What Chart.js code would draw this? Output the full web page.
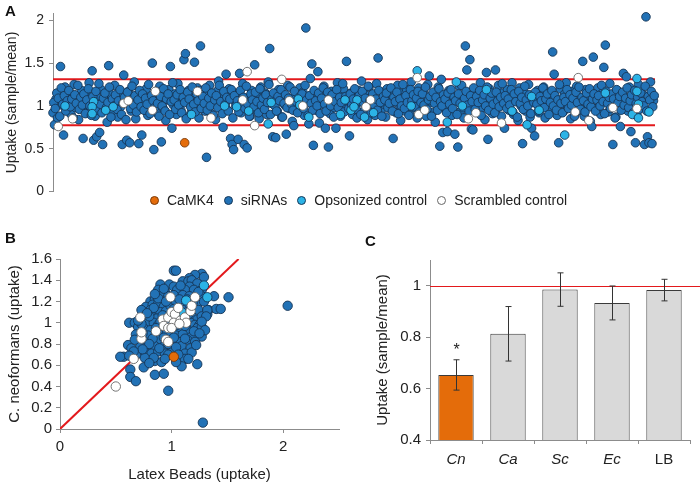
<!DOCTYPE html>
<html>
<head>
<meta charset="utf-8">
<script src="https://cdn.jsdelivr.net/npm/chart.js@4.4.0/dist/chart.umd.min.js"></script>
<style>
  body { margin:0; background:#fff; font-family:"Liberation Sans", Arial, sans-serif; }
  #wrap { position:relative; width:700px; height:485px; overflow:hidden; background:#fff; }
  #wrap canvas { position:absolute; }
  .panel { position:absolute; font-weight:bold; font-size:15px; line-height:15px; color:#111; }
  #legendA { position:absolute; left:150px; top:192px; display:flex; align-items:center; font-size:14px; line-height:16px; color:#222; white-space:nowrap; }
  #legendA .item { display:flex; align-items:center; margin-right:10px; }
  #legendA .dot { width:9px; height:9px; border-radius:50%; border:1px solid; margin-right:8px; box-sizing:border-box; }
</style>
</head>
<body>
<div id="wrap">
  <canvas id="chartA" width="700" height="205" style="left:0;top:0"></canvas>
  <canvas id="chartB" width="350" height="265" style="left:0;top:220px"></canvas>
  <canvas id="chartC" width="350" height="265" style="left:350px;top:220px"></canvas>
  <div class="panel" style="left:5px;top:3px">A</div>
  <div class="panel" style="left:5px;top:230px">B</div>
  <div class="panel" style="left:365px;top:233px">C</div>
  <div id="legendA"></div>
</div>
<script>
// ---- panel A: uptake per siRNA (sample index -> sample/mean)
const siRNAsA = [
  0.92,0.78,1.08,0.86,1.12,1.46,1.01,0.66,1.22,0.95,1.05,1.16,0.90,1.03,1.25,0.98,1.10,0.84,1.07,1.18,
  0.62,1.00,1.13,0.93,1.27,1.04,1.41,0.60,0.88,0.64,1.09,0.69,1.19,0.55,0.97,1.06,0.81,1.47,1.14,1.02,
  0.91,1.24,1.07,0.87,1.11,0.99,0.55,1.36,1.04,0.60,1.17,0.57,0.94,1.08,1.28,0.85,1.02,0.56,1.13,0.66,
  1.06,0.96,1.20,0.89,1.10,1.00,1.50,0.49,1.15,0.92,1.04,1.23,0.58,0.98,1.12,0.83,1.07,1.19,1.46,0.74,
  1.01,1.14,0.90,1.26,1.05,0.95,1.09,1.54,1.61,0.87,1.18,1.03,0.93,1.12,1.51,0.99,1.21,0.86,1.70,1.08,
  1.16,0.94,0.40,1.06,1.24,0.91,1.11,1.02,0.84,1.17,1.29,0.97,1.08,0.75,1.13,1.37,0.95,1.20,0.62,0.55,
  0.49,1.05,1.14,0.61,1.38,0.92,1.26,0.55,1.09,0.51,1.00,0.88,1.18,1.04,1.48,0.96,1.12,0.85,1.22,1.07,
  0.99,1.15,0.90,1.28,1.67,1.03,0.64,1.10,0.63,0.94,1.19,1.06,0.87,1.13,1.01,0.67,1.24,0.97,1.08,0.82,
  0.77,1.11,1.04,0.93,1.21,1.00,1.16,0.89,1.91,1.07,0.79,1.32,1.49,0.54,1.09,0.95,1.40,0.80,1.14,1.02,
  1.23,0.74,1.05,0.52,0.91,1.17,1.08,0.98,0.74,1.27,1.03,0.88,1.12,1.20,0.96,1.52,1.06,0.65,1.15,0.90,
  1.10,1.01,0.86,1.18,1.05,1.29,0.93,1.14,1.08,0.84,1.22,0.99,1.11,1.04,0.89,1.26,1.56,1.07,0.95,1.16,
  1.02,0.87,1.20,1.09,0.97,1.13,0.62,1.05,0.92,1.24,1.01,0.83,1.15,1.10,0.94,1.19,1.06,0.90,1.28,1.03,
  0.98,1.12,0.86,1.21,1.07,0.95,1.17,1.00,0.88,1.25,1.35,1.04,0.92,1.14,0.81,1.09,1.22,0.53,1.31,0.69,
  1.06,0.96,0.70,1.18,1.02,0.89,1.11,0.67,1.08,0.52,1.23,0.94,1.05,0.86,1.70,1.42,1.13,1.54,0.73,0.72,
  1.01,1.16,0.93,1.07,1.27,0.98,1.10,0.84,1.39,0.61,1.20,1.04,0.91,1.13,1.42,0.97,1.24,1.06,0.88,1.15,
  0.74,1.09,1.19,0.95,1.03,1.27,0.90,1.12,1.07,0.83,1.21,1.00,0.56,1.15,0.94,1.08,1.25,0.87,0.74,1.11,
  0.65,1.04,1.18,0.92,1.13,0.99,1.22,0.86,1.07,1.16,0.96,1.10,1.63,1.37,1.02,0.89,0.57,1.20,1.05,0.93,
  1.14,1.27,0.98,1.08,0.85,1.17,1.03,0.91,1.23,1.11,0.95,1.06,1.52,0.88,1.19,1.01,1.12,0.82,0.76,1.57,
  1.09,0.97,1.21,1.04,0.90,1.15,1.45,1.71,1.07,0.93,1.26,1.00,0.55,1.12,0.87,1.18,1.05,0.76,0.96,1.38,
  1.10,1.34,0.94,1.22,0.70,1.03,1.16,0.57,0.89,1.25,1.08,0.99,1.13,0.55,2.04,0.64,0.57,1.28,0.56,1.06
];
// second plate, samples sitting between the ones above (index + 0.5)
const siRNAsA2 = [
  1.04,0.97,1.15,1.09,0.88,1.21,1.02,1.12,0.94,1.06,1.18,0.99,1.08,0.86,1.13,1.03,1.24,0.96,1.10,1.01,
  1.14,0.91,1.07,1.20,1.00,0.89,1.11,1.05,1.17,0.95,1.26,1.02,0.92,1.09,1.15,0.98,1.04,1.22,0.87,1.08,
  1.00,1.13,0.96,1.06,1.19,0.90,1.03,1.10,0.84,1.16,1.05,0.97,1.23,1.01,1.12,0.93,1.07,1.18,0.99,1.14,
  0.95,1.09,1.02,1.25,0.91,1.12,1.06,0.98,1.17,1.03,0.88,1.11,1.00,1.20,0.94,1.08,1.14,0.90,1.05,1.27,
  1.07,0.96,1.13,1.01,1.19,0.92,1.10,1.04,0.85,1.16,1.08,0.99,1.22,1.02,0.93,1.14,1.06,1.18,0.97,1.11,
  1.03,1.21,0.95,1.09,1.00,1.15,0.89,1.07,1.12,0.98,1.24,1.05,0.91,1.17,1.02,1.10,0.94,1.08,1.19,0.86,
  1.12,1.00,1.06,0.93,1.18,1.04,1.10,0.97,1.23,1.02,0.88,1.14,1.07,0.99,1.16,1.05,0.92,1.20,1.01,1.09,
  0.96,1.13,1.04,1.25,0.90,1.08,1.15,1.00,0.94,1.11,1.06,1.19,0.87,1.03,1.13,0.98,1.09,1.22,1.02,0.95,
  1.17,1.05,0.92,1.10,1.01,1.14,0.97,1.24,1.07,0.89,1.12,1.03,0.95,1.18,1.06,1.00,1.15,0.91,1.09,1.21,
  1.02,0.94,1.16,1.08,1.00,1.13,0.87,1.05,1.19,0.98,1.10,1.04,1.26,0.93,1.11,1.06,0.97,1.14,1.01,1.08,
  1.20,0.96,1.05,1.12,0.90,1.17,1.03,1.09,0.99,1.23,1.06,0.92,1.14,1.01,1.08,0.95,1.18,1.04,0.88,1.11,
  1.07,1.15,0.98,1.03,1.21,0.94,1.10,1.05,1.16,0.91,1.08,1.00,1.25,0.97,1.12,1.04,0.89,1.19,1.06,1.13,
  0.99,1.09,1.17,0.93,1.04,1.14,1.01,1.22,0.96,1.07,1.11,0.88,1.16,1.03,1.10,0.95,1.20,1.05,1.00,1.13,
  1.08,0.92,1.15,1.02,1.19,0.97,1.10,1.06,0.90,1.14,1.03,1.24,0.98,1.09,1.17,1.01,0.94,1.12,1.05,1.21,
  0.96,1.11,1.04,1.18,0.89,1.07,1.13,1.00,1.22,0.95,1.09,1.15,1.02,0.92,1.16,1.06,0.99,1.10,1.26,1.03,
  1.12,0.97,1.08,1.01,1.19,0.93,1.14,1.05,0.87,1.17,1.03,1.10,0.96,1.23,1.07,1.00,1.13,0.91,1.09,1.04,
  1.16,1.02,0.94,1.11,1.06,1.21,0.98,1.08,1.14,0.90,1.04,1.18,1.00,1.12,0.95,1.07,1.25,1.03,0.92,1.10,
  1.05,1.19,0.97,1.13,1.01,1.09,0.88,1.16,1.04,1.22,0.96,1.10,1.06,0.93,1.15,1.02,1.20,0.99,1.08,1.14,
  0.94,1.07,1.12,1.00,1.24,1.05,0.91,1.17,1.03,1.10,0.97,1.14,1.08,0.86,1.19,1.04,1.11,0.95,1.16,1.01,
  1.09,1.21,0.98,1.06,1.13,0.92,1.18,1.03,1.10,0.96,1.15,1.05,1.00,1.23,0.94,1.11,1.07,1.17,0.99,1.12
];
// [sample, value]
const opsonizedA = [
  [8,1.00],[27,1.05],[26,0.99],[26,0.91],[35,0.95],[40,0.99],[92,0.90],[114,1.00],[122,0.99],[130,0.94],
  [143,0.79],[145,1.04],[163,1.08],[164,1.01],[170,0.87],[191,0.90],[194,1.07],[198,0.95],[202,1.07],[200,0.99],
  [207,0.87],[213,0.92],[238,1.00],[242,1.41],[262,0.81],[268,1.28],[272,1.00],[288,1.19],[305,0.94],[315,0.78],
  [318,1.11],[323,0.95],[340,0.66],[367,1.15],[385,0.90],[388,1.32],[388,1.17],[389,1.02],[389,0.86],[396,0.93]
];
const scrambledA = [
  [3.5,0.76],[13,0.85],[47,1.03],[50,1.06],[66,0.95],[68,1.17],[96,1.17],[105,0.86],[126,1.07],[129,1.40],
  [134,0.77],[152,1.31],[157,1.06],[166,1.00],[183,1.07],[208,0.99],[211,1.07],[242,1.33],[243,0.90],[247,0.95],
  [276,0.85],[281,0.92],[298,0.80],[347,0.93],[349,1.33],[356,0.83],[372,0.98],[388,0.97]
];
const camk4A = [[87.5,0.57]];
const cutoffsA = [0.775, 1.31];
const yTicksA = [0, 0.5, 1, 1.5, 2];
const sampleCountA = 400;

// ---- panel B: latex beads vs C. neoformans uptake [beads, neoformans]
const siRNAsB = [
  [1.02,1.49],[1.04,1.49],[1.27,1.46],[1.21,1.45],[1.16,1.42],[1.29,1.43],
  [0.90,1.36],[0.98,1.36],[1.02,1.34],[1.10,1.39],[1.15,1.39],[1.18,1.40],[1.23,1.37],[1.16,1.34],
  [0.88,1.31],[0.94,1.29],[1.05,1.31],[1.12,1.31],[1.20,1.31],[1.27,1.31],
  [0.81,1.20],[0.85,1.22],[0.91,1.25],[0.97,1.25],[1.02,1.26],[1.10,1.26],[1.16,1.25],[1.23,1.23],[1.27,1.25],
  [0.77,1.15],[0.83,1.17],[0.88,1.18],[0.93,1.15],[1.09,1.18],[1.12,1.17],[1.23,1.17],
  [0.73,1.12],[0.81,1.12],[0.86,1.10],[0.90,1.10],[0.95,1.11],[1.10,1.12],[1.14,1.10],[1.24,1.12],[1.33,1.12],[1.32,1.08],
  [0.76,1.06],[0.82,1.06],[0.87,1.04],[1.07,1.06],[1.18,1.06],[1.23,1.03],[1.27,1.06],
  [0.62,1.00],[0.67,1.00],[0.79,1.00],[0.84,1.00],[0.88,0.98],[0.97,1.00],[1.17,1.00],[1.21,0.98],[1.25,0.98],
  [0.70,0.96],[0.76,0.94],[0.81,0.93],[0.91,0.93],[1.03,0.95],[1.08,0.93],[1.14,0.93],[1.23,0.95],[1.27,0.96],
  [0.68,0.89],[0.79,0.88],[0.85,0.87],[0.90,0.89],[0.97,0.89],[1.04,0.88],[1.10,0.89],[1.18,0.87],[1.27,0.87],
  [0.61,0.79],[0.70,0.84],[0.76,0.82],[0.82,0.82],[0.89,0.84],[1.01,0.82],[1.06,0.82],[1.14,0.84],[1.21,0.82],
  [0.64,0.76],[0.72,0.78],[0.78,0.78],[0.85,0.78],[0.93,0.78],[1.00,0.76],[1.09,0.78],[1.17,0.76],
  [0.70,0.71],[0.76,0.72],[0.82,0.71],[0.88,0.73],[0.94,0.71],[1.01,0.73],[1.12,0.71],[1.18,0.72],
  [0.57,0.68],[0.54,0.68],[0.76,0.67],[0.85,0.64],[0.91,0.63],[1.12,0.66],[1.15,0.66],[1.23,0.61],
  [0.75,0.58],[1.09,0.59],[0.63,0.56],[0.63,0.49],[0.68,0.45],[0.85,0.51],[0.93,0.52],
  [0.97,0.36],[1.28,0.06],
  [1.51,1.24],[1.38,1.25],[1.40,1.13],[1.44,1.13],[1.32,1.12],[1.31,1.06],[2.04,1.16],
  [0.84,1.14],[0.99,1.16],[1.04,1.20],[1.14,1.22],[0.80,1.06],[0.92,1.07],[1.10,1.04],[1.15,1.08],
  [0.73,0.99],[0.90,1.01],[1.05,0.98],[1.12,0.97],[0.86,0.95],[0.96,0.91],[1.20,0.92],[0.74,0.90],
  [0.83,0.85],[0.93,0.86],[1.02,0.86],[1.12,0.85],[0.67,0.84],[0.80,0.80],[0.97,0.80],[1.04,0.77],
  [1.22,0.79],[0.89,0.76],[0.74,0.75],[0.97,0.70],[1.06,0.70],[0.84,0.67],[0.94,0.66],[1.04,0.63],
  [0.80,0.62],[0.66,0.73],[0.62,0.69],[0.88,1.23],[0.95,1.20],[1.07,1.22],[1.19,1.19],[1.29,1.20],
  [1.24,1.29],[1.08,1.35],[0.93,1.32],[0.85,1.27],[0.78,1.09],[1.02,1.13],[1.27,1.01],[1.30,0.93],
  [1.25,0.90],[0.70,1.02]
];
const opsonizedB = [[1.29,1.35],[1.32,1.24],[1.13,1.21],[1.09,1.10]];
const scrambledB = [
  [0.92,1.03],[0.97,1.05],[1.00,1.10],[1.03,1.08],[1.06,1.14],[1.02,1.00],[1.08,1.02],[1.12,1.05],
  [1.13,1.00],[1.17,1.11],[1.18,1.16],[1.21,1.24],[0.86,0.92],[0.93,0.97],[0.97,0.95],[0.95,0.84],
  [0.73,0.85],[0.73,0.91],[0.72,1.05],[0.99,1.24],[0.50,0.40],[0.66,0.66],[0.97,0.82],[1.00,0.95],[1.07,0.99]
];
const camk4B = [[1.02,0.68]];
const identityB = [0, 1.6];
const xTicksB = [0, 1, 2];
const yTicksB = [0, 0.2, 0.4, 0.6, 0.8, 1, 1.2, 1.4, 1.6];

// ---- panel C: uptake by organism
const organismsC = ['Cn', 'Ca', 'Sc', 'Ec', 'LB'];
const italicC = [true, true, true, true, false];
const meanC = [0.653, 0.813, 0.985, 0.933, 0.983];
const errC = [0.059, 0.106, 0.065, 0.066, 0.042];
const sigC = ['*', '', '', '', ''];
const yTicksC = [0.4, 0.6, 0.8, 1];
const refLineC = 1;

const BLUE = '#2272b6', CYAN = '#2bb3e6', ORANGE = '#e46c0a', EDGE = '#163656', RED = '#e3191c';
const GRIDC = '#8c8c8c';

Chart.defaults.font.family = '"Liberation Sans", Arial, sans-serif';
Chart.defaults.font.size = 14;
Chart.defaults.color = '#222';

const pts = arr => arr.map(p => ({ x: p[0], y: p[1] }));
const fixTicks = list => scale => { scale.ticks = list.map(v => ({ value: v })); };
const axisLook = {
  grid: { drawOnChartArea: false, drawTicks: true, tickLength: 4, color: GRIDC },
  border: { display: true, color: GRIDC }
};
const f15 = { size: 15 };

function dots(label, data, fill, edge, r) {
  return { type: 'scatter', label, data, backgroundColor: fill, borderColor: edge,
           borderWidth: 0.9, pointRadius: r, pointHoverRadius: r, clip: false };
}

// ---- A
const siData = siRNAsA.map((v, i) => ({ x: i, y: v }))
  .concat(siRNAsA2.map((v, i) => ({ x: i + 0.5, y: v })));
const dsA = [
  dots('CaMK4', pts(camk4A), ORANGE, '#7a3a08', 4.3),
  dots('Scrambled control', pts(scrambledA), '#ffffff', '#666666', 4.3),
  dots('Opsonized control', pts(opsonizedA), CYAN, EDGE, 4.3),
  dots('siRNAs', siData, BLUE, EDGE, 4.3)
];
cutoffsA.forEach(c => dsA.push({ type: 'line', label: 'cut', data: [{ x: 0, y: c }, { x: sampleCountA, y: c }],
  borderColor: RED, borderWidth: 2, pointRadius: 0, fill: false }));

new Chart(document.getElementById('chartA'), {
  type: 'scatter',
  data: { datasets: dsA },
  options: {
    responsive: false, animation: false,
    layout: { padding: { top: 13, right: 45, bottom: 13, left: 0 } },
    plugins: { legend: { display: false }, tooltip: { enabled: false } },
    scales: {
      x: { type: 'linear', min: 0, max: sampleCountA, display: false },
      y: {
        min: 0, max: 2.08, afterBuildTicks: fixTicks(yTicksA), afterFit: s => { s.width = 53; },
        ticks: { padding: 5, callback: v => String(v) },
        title: { display: true, text: 'Uptake (sample/mean)', padding: { top: 4, bottom: 0 } },
        ...axisLook
      }
    }
  }
});

// legend for A, built from the datasets
const legendOrder = ['CaMK4', 'siRNAs', 'Opsonized control', 'Scrambled control'];
const legendEl = document.getElementById('legendA');
legendOrder.forEach(name => {
  const d = dsA.find(x => x.label === name);
  const item = document.createElement('div');
  item.className = 'item';
  const dot = document.createElement('span');
  dot.className = 'dot';
  dot.style.background = d.backgroundColor;
  dot.style.borderColor = d.borderColor;
  item.appendChild(dot);
  item.appendChild(document.createTextNode(name));
  legendEl.appendChild(item);
});

// ---- B
new Chart(document.getElementById('chartB'), {
  type: 'scatter',
  data: { datasets: [
    dots('CaMK4', pts(camk4B), ORANGE, '#7a3a08', 4.7),
    dots('Scrambled control', pts(scrambledB), '#ffffff', '#666666', 4.7),
    dots('Opsonized control', pts(opsonizedB), CYAN, EDGE, 4.7),
    dots('siRNAs', pts(siRNAsB), BLUE, EDGE, 4.7),
    { type: 'line', label: 'x = y', data: identityB.map(v => ({ x: v, y: v })),
      borderColor: RED, borderWidth: 2, pointRadius: 0, fill: false }
  ] },
  options: {
    responsive: false, animation: false,
    layout: { padding: { top: 39, right: 11, bottom: 0, left: 0 } },
    plugins: { legend: { display: false }, tooltip: { enabled: false } },
    scales: {
      x: {
        type: 'linear', min: 0, max: 2.5, afterBuildTicks: fixTicks(xTicksB), afterFit: s => { s.height = 56; },
        ticks: { padding: 5, font: f15, callback: v => String(v) },
        title: { display: true, text: 'Latex Beads (uptake)', font: f15, padding: { top: 0, bottom: 1 } },
        ...axisLook
      },
      y: {
        min: 0, max: 1.6, afterBuildTicks: fixTicks(yTicksB), afterFit: s => { s.width = 60; },
        ticks: { padding: 4, font: f15, callback: v => String(v) },
        title: { display: true, text: 'C. neoformans (uptake)', font: f15, padding: { top: 6, bottom: 0 } },
        ...axisLook
      }
    }
  }
});

// ---- C
const errorBars = {
  id: 'errorBars',
  afterDatasetsDraw(chart) {
    const { ctx, scales: { y } } = chart;
    const meta = chart.getDatasetMeta(0);
    ctx.save();
    // reference line at 1
    const yr = Math.round(y.getPixelForValue(refLineC)) + 0.5;
    ctx.strokeStyle = RED; ctx.lineWidth = 1;
    ctx.beginPath(); ctx.moveTo(chart.chartArea.left, yr); ctx.lineTo(chart.width, yr); ctx.stroke();
    ctx.strokeStyle = '#333'; ctx.lineWidth = 1;
    meta.data.forEach((bar, i) => {
      const x = Math.round(bar.x) + 0.5;
      const hi = y.getPixelForValue(meanC[i] + errC[i]);
      const lo = y.getPixelForValue(meanC[i] - errC[i]);
      ctx.beginPath();
      ctx.moveTo(x, hi); ctx.lineTo(x, lo);
      ctx.moveTo(x - 3, hi); ctx.lineTo(x + 3, hi);
      ctx.moveTo(x - 3, lo); ctx.lineTo(x + 3, lo);
      ctx.stroke();
      if (sigC[i]) {
        ctx.fillStyle = '#222';
        ctx.font = '16px "Liberation Sans", Arial, sans-serif';
        ctx.textAlign = 'center'; ctx.textBaseline = 'bottom';
        ctx.fillText(sigC[i], x, hi - 1);
      }
    });
    ctx.restore();
  }
};

new Chart(document.getElementById('chartC'), {
  type: 'bar',
  data: {
    labels: organismsC,
    datasets: [{
      label: 'Uptake', data: meanC,
      backgroundColor: organismsC.map((_, i) => i === 0 ? ORANGE : '#d9d9d9'),
      borderColor: '#3a3a3a', borderWidth: 1, borderSkipped: false,
      barPercentage: 0.68, categoryPercentage: 1
    }]
  },
  options: {
    responsive: false, animation: false,
    layout: { padding: { top: 40, right: 10, bottom: 0, left: 0 } },
    plugins: { legend: { display: false }, tooltip: { enabled: false } },
    scales: {
      x: {
        afterFit: s => { s.height = 45; },
        ticks: { padding: 7, font: c => ({ size: 15, style: italicC[c.index] ? 'italic' : 'normal' }) },
        grid: { drawOnChartArea: false, drawTicks: true, tickLength: 4, color: GRIDC, offset: true },
        border: { display: true, color: GRIDC }
      },
      y: {
        min: 0.4, max: 1.1, afterBuildTicks: fixTicks(yTicksC), afterFit: s => { s.width = 80; },
        ticks: { padding: 5, font: f15, callback: v => String(v) },
        title: { display: true, text: 'Uptake (sample/mean)', font: f15, padding: { top: 24, bottom: 0 } },
        ...axisLook
      }
    }
  },
  plugins: [errorBars]
});
</script>
</body>
</html>
